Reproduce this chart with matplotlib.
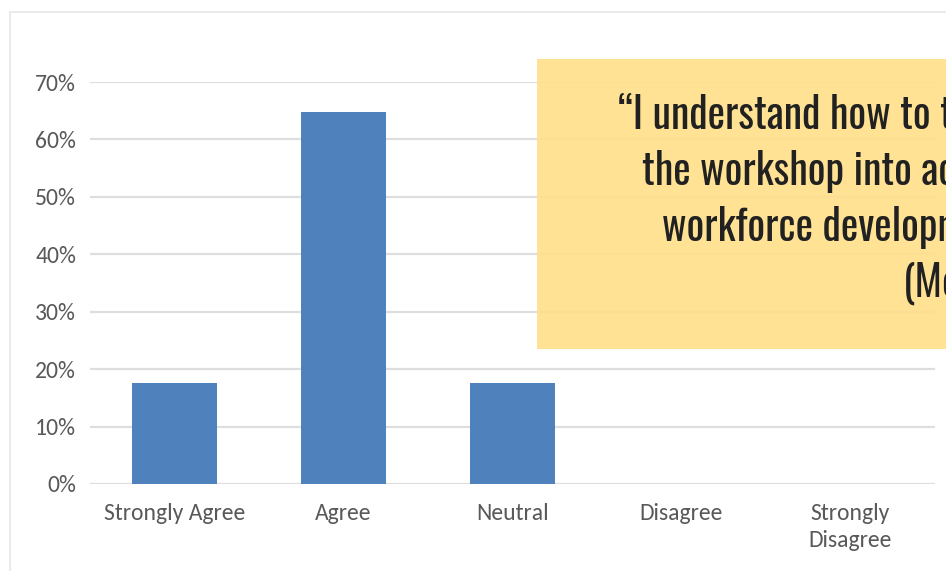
import matplotlib
matplotlib.use("Agg")
import matplotlib.pyplot as plt
from matplotlib.patches import Rectangle
from matplotlib.ticker import PercentFormatter
from matplotlib import font_manager

categories = ["Strongly Agree", "Agree", "Neutral", "Disagree", "Strongly\nDisagree"]
shares = [0.176, 0.647, 0.176, 0.0, 0.0]
yticks = [0, 0.1, 0.2, 0.3, 0.4, 0.5, 0.6, 0.7]
quote_lines = ["\u201cI understand how to t", "the workshop into ac", "workforce developm", "(Mo"]

names = {f.name for f in font_manager.fontManager.ttflist}
quote_font = next(f for f in ["Oswald", "Fira Sans Extra Condensed", "Barlow Condensed", "DejaVu Sans"] if f in names)
label_font = next(f for f in ["Carlito", "Open Sans"] if f in names)

W, H = 946, 571
fig = plt.figure(figsize=(W / 100, H / 100), dpi=100)

# plot area in pixels: x 90..935, y 82..484 from top
ax = fig.add_axes([90 / W, 1 - 484 / H, 845 / W, 402 / H])
ax.bar(range(len(categories)), shares, width=0.5, color="#4f81bd", zorder=2)
ax.set_xlim(-0.5, 4.5)
ax.set_ylim(0, 0.7)
ax.set_yticks(yticks)
ax.yaxis.set_major_formatter(PercentFormatter(1.0, decimals=0))
ax.set_xticks(range(len(categories)))
ax.set_xticklabels(categories, linespacing=1.35)
ax.grid(axis="y", color="#dedede", linewidth=1.6, zorder=0)
for s in ax.spines.values():
    s.set_visible(False)
ax.tick_params(length=0, labelsize=17, labelcolor="#595959")
ax.tick_params(axis="y", pad=10)
ax.tick_params(axis="x", pad=14)
for lab in ax.get_xticklabels() + ax.get_yticklabels():
    lab.set_family(label_font)

# outer chart border
fig.patches.append(Rectangle((10 / W, 1 - 600 / H), 1, 588 / H, transform=fig.transFigure,
                             fill=False, edgecolor="#e6e6e6", linewidth=1.2, zorder=0))

# yellow quote box
fig.patches.append(Rectangle((537 / W, 1 - 349 / H), 420 / W, 290 / H, transform=fig.transFigure,
                             facecolor="#ffe08c", edgecolor="none", alpha=0.93, zorder=3))
xs = [618, 642, 662, 903]
for i, (txt, x) in enumerate(zip(quote_lines, xs)):
    fig.text(x / W, 1 - (129 + 56 * i) / H, txt, fontsize=30, family=quote_font,
             color="#212121", va="baseline", ha="left", zorder=4)

fig.savefig("out.png", dpi=100)
